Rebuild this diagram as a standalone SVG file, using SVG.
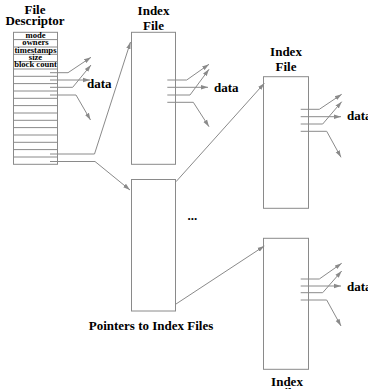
<svg xmlns="http://www.w3.org/2000/svg" width="368" height="389" viewBox="0 0 368 389">
<defs>
<style>
.box{fill:none;stroke:#8a8a8a;stroke-width:1}
.ln{fill:none;stroke:#8a8a8a;stroke-width:1}
.c{fill:none;stroke:#8a8a8a;stroke-width:1;marker-end:url(#ah)}
.t{font-family:"Liberation Serif","Times New Roman",serif;font-weight:bold;fill:#000}
.title{font-size:13px;text-anchor:middle}
.lbl{font-size:8.6px;text-anchor:middle}
.data{font-size:13px}
</style>
<marker id="ah" markerUnits="userSpaceOnUse" markerWidth="8" markerHeight="6" refX="7" refY="3" orient="auto">
<path d="M0,0.8 L7,3 L0,5.2 Z" fill="#8a8a8a"/>
</marker>
</defs>
<rect width="368" height="389" fill="#fff"/>

<g id="file-descriptor">
<text class="t title" x="35" y="13.5">File</text>
<text class="t title" x="35" y="24.5">Descriptor</text>
<rect class="box" x="13.5" y="32.3" width="44" height="132"/>
<path class="ln" d="M13.5,39.6H57.5M13.5,47H57.5M13.5,54.3H57.5M13.5,61.6H57.5M13.5,69H57.5M13.5,76.3H57.5M13.5,83.6H57.5M13.5,91H57.5M13.5,98.3H57.5M13.5,105.6H57.5M13.5,113H57.5M13.5,120.3H57.5M13.5,127.6H57.5M13.5,135H57.5M13.5,142.3H57.5M13.5,149.6H57.5M13.5,157H57.5"/>
<text class="t lbl" x="35.5" y="38">mode</text>
<text class="t lbl" x="35.5" y="45.3">owners</text>
<text class="t lbl" x="35.5" y="52.7">timestamps</text>
<text class="t lbl" x="35.5" y="60">size</text>
<text class="t lbl" x="35.5" y="67.3">block count</text>
<text class="t data" x="87" y="88">data</text>
</g>

<g id="index-file-1">
<text class="t title" x="153.5" y="15">Index</text>
<text class="t title" x="153.5" y="30">File</text>
<rect class="box" x="131.5" y="32.3" width="44" height="132"/>
<text class="t data" x="214" y="91.5">data</text>
</g>

<g id="pointers-box">
<rect class="box" x="131.5" y="179.5" width="44" height="131.5"/>
<text class="t title" x="151" y="330">Pointers to Index Files</text>
<text class="t data" x="187.5" y="220">...</text>
</g>

<g id="index-file-2">
<text class="t title" x="286" y="56">Index</text>
<text class="t title" x="286" y="70.5">File</text>
<rect class="box" x="263.5" y="76.7" width="45" height="131.6"/>
<text class="t data" x="347" y="120">data</text>
</g>

<g id="index-file-3">
<rect class="box" x="263.5" y="238.3" width="45" height="131"/>
<text class="t title" x="287" y="386">Index</text>
<text class="t title" x="287" y="396.5">File</text>
<text class="t data" x="347" y="291">data</text>
</g>

<g id="connectors">
<path class="c" d="M50,72.7H68L91,57.3"/>
<path class="c" d="M50,80H90"/>
<path class="c" d="M50,87.3H72.7L91,65"/>
<path class="c" d="M50,95H76L90.5,120"/>
<path class="c" d="M50,154H94.5L130.5,42"/>
<path class="c" d="M50,161.5H95L130,190"/>

<path class="c" d="M167.3,80H186.7L209,64.3"/>
<path class="c" d="M167.3,87.3H208"/>
<path class="c" d="M167.3,95H190L209,69.3"/>
<path class="c" d="M167.3,102.3H193.3L209,126.7"/>

<path class="c" d="M176,181.7L264.3,83.3"/>
<path class="c" d="M176,304L264.3,246"/>

<path class="c" d="M300.7,109.3H319.3L341.7,94.3"/>
<path class="c" d="M300.7,116.7H341"/>
<path class="c" d="M300.7,124H322.7L341.7,101.7"/>
<path class="c" d="M300.7,131.3H326.7L341,157.3"/>

<path class="c" d="M300.7,279H319.3L341.7,263.3"/>
<path class="c" d="M300.7,286H341"/>
<path class="c" d="M300.7,292.7H322.7L341.7,271"/>
<path class="c" d="M300.7,300H326.7L341,326"/>
</g>
</svg>
